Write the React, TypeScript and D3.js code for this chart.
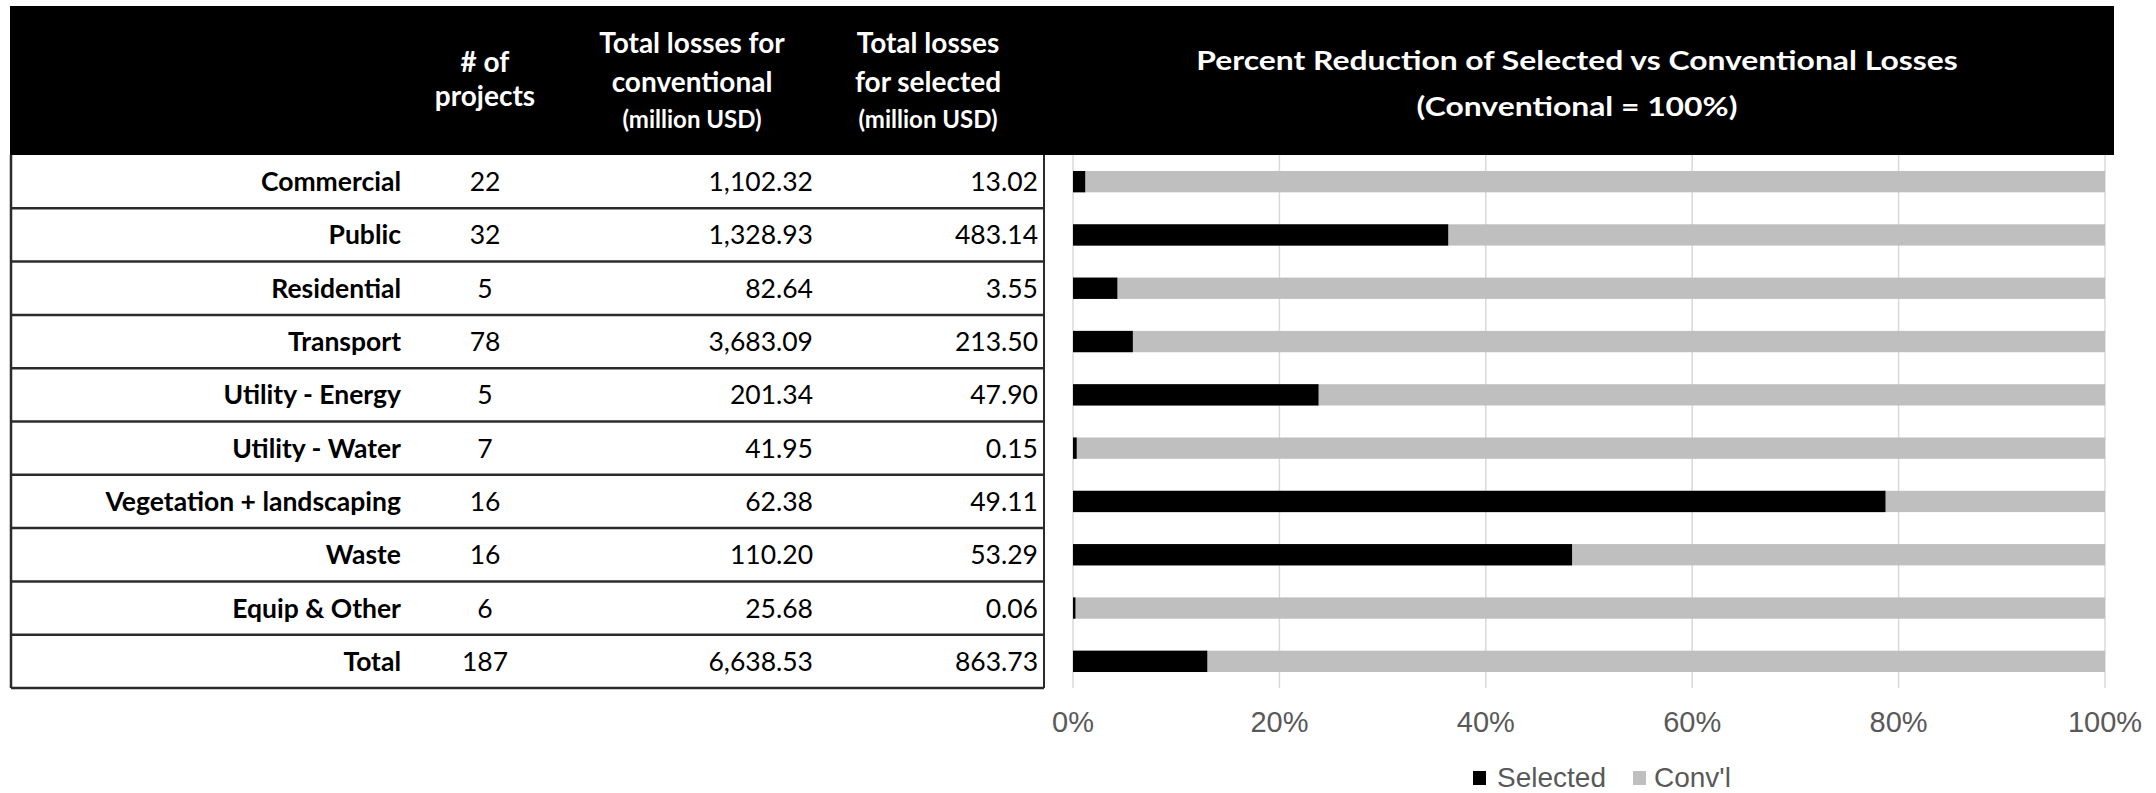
import React from "react";
import * as d3 from "d3";

const categories = [
  "Commercial",
  "Public",
  "Residential",
  "Transport",
  "Utility - Energy",
  "Utility - Water",
  "Vegetation + landscaping",
  "Waste",
  "Equip & Other",
  "Total",
];
const projects = [22, 32, 5, 78, 5, 7, 16, 16, 6, 187];
const conventional = [1102.32, 1328.93, 82.64, 3683.09, 201.34, 41.95, 62.38, 110.2, 25.68, 6638.53];
const selected = [13.02, 483.14, 3.55, 213.5, 47.9, 0.15, 49.11, 53.29, 0.06, 863.73];
const xTicks = [0, 0.2, 0.4, 0.6, 0.8, 1];
const seriesNames = ["Selected", "Conv'l"];
const chartTitle = ["Percent Reduction of Selected vs Conventional Losses", "(Conventional = 100%)"];

const W = 2156;
const H = 793;
const FONT = "Lato, 'Open Sans', sans-serif";
const AXFONT = "'Liberation Sans', Arial, sans-serif";

export default function App() {
  const tableLeft = 11;
  const tableRight = 1044;
  const top = 155;
  const bottom = 688;
  const headerTop = 6;
  const headerRight = 2114;

  const y = d3.scaleBand<string>().domain(categories).range([top, bottom]).padding(0);
  const x = d3.scaleLinear().domain([0, 1]).range([1073, 2105]);
  const fmt = d3.format(",.2f");
  const barH = y.bandwidth() * 0.4;

  const rows = categories.map((c, i) => {
    const s = selected[i] / conventional[i];
    return { c, i, s, y0: y(c) as number };
  });

  const colLabelRight = 401;
  const colProjects = 485;
  const colConvRight = 813;
  const colSelRight = 1038;
  const hdrConv = 692;
  const hdrSel = 928;
  const titleX = 1577;

  return (
    <svg
      width={W}
      height={H}
      viewBox={`0 0 ${W} ${H}`}
      style={{ position: "absolute", left: 0, top: 0, display: "block", background: "#fff" }}
    >
      {/* gridlines */}
      {xTicks.map((t) => (
        <line key={"g" + t} x1={x(t)} x2={x(t)} y1={top} y2={bottom} stroke="#d9d9d9" strokeWidth={1.5} />
      ))}
      {/* bars */}
      {rows.map((r) => {
        const cy = r.y0 + y.bandwidth() / 2;
        return (
          <g key={"b" + r.c}>
            <rect x={x(0)} y={cy - barH / 2} width={x(1) - x(0)} height={barH} fill="#bfbfbf" />
            <rect x={x(0)} y={cy - barH / 2} width={x(r.s) - x(0)} height={barH} fill="#000" />
          </g>
        );
      })}
      {/* x tick labels */}
      {xTicks.map((t) => (
        <text
          key={"t" + t}
          x={x(t)}
          y={732}
          textAnchor="middle"
          fontFamily={AXFONT}
          fontSize={29}
          fill="#595959"
        >
          {d3.format(".0%")(t)}
        </text>
      ))}
      {/* legend */}
      <rect x={1473} y={771} width={13} height={14} fill="#000" />
      <text x={1497} y={787} fontFamily={AXFONT} fontSize={28} fill="#595959">
        {seriesNames[0]}
      </text>
      <rect x={1633} y={771} width={13} height={14} fill="#bfbfbf" />
      <text x={1654} y={787} fontFamily={AXFONT} fontSize={28} fill="#595959">
        {seriesNames[1]}
      </text>

      {/* header */}
      <rect x={tableLeft - 1} y={headerTop} width={headerRight - tableLeft + 1} height={top - headerTop} fill="#000" />
      <g fontFamily={FONT} fontWeight={700} fill="#fff" textAnchor="middle">
        <text x={colProjects} y={72} fontSize={28}># of</text>
        <text x={colProjects} y={106} fontSize={28}>projects</text>
        <text x={hdrConv} y={53} fontSize={28}>Total losses for</text>
        <text x={hdrConv} y={92} fontSize={28}>conventional</text>
        <text x={hdrConv} y={128} fontSize={24}>(million USD)</text>
        <text x={hdrSel} y={53} fontSize={28}>Total losses</text>
        <text x={hdrSel} y={92} fontSize={28}>for selected</text>
        <text x={hdrSel} y={128} fontSize={24}>(million USD)</text>
        <text transform={`translate(${titleX},70) scale(1.18,1)`} fontSize={27}>{chartTitle[0]}</text>
        <text transform={`translate(${titleX},116) scale(1.18,1)`} fontSize={27}>{chartTitle[1]}</text>
      </g>

      {/* table */}
      <g fontFamily={FONT} fontSize={26.5}>
        {rows.map((r) => {
          const cy = r.y0 + y.bandwidth() / 2;
          return (
            <g key={"r" + r.c}>
              <text x={colLabelRight} y={cy} dy="0.36em" textAnchor="end" fontWeight={700} fill="#000">
                {r.c}
              </text>
              <text x={colProjects} y={cy} dy="0.36em" textAnchor="middle" fill="#000">
                {projects[r.i]}
              </text>
              <text x={colConvRight} y={cy} dy="0.36em" textAnchor="end" fill="#000">
                {fmt(conventional[r.i])}
              </text>
              <text x={colSelRight} y={cy} dy="0.36em" textAnchor="end" fill="#000">
                {fmt(selected[r.i])}
              </text>
            </g>
          );
        })}
        {rows.slice(1).map((r) => (
          <line key={"l" + r.c} x1={tableLeft} x2={tableRight} y1={r.y0} y2={r.y0} stroke="#2b2b2b" strokeWidth={2.5} />
        ))}
        <line x1={tableLeft} x2={tableRight} y1={bottom} y2={bottom} stroke="#2b2b2b" strokeWidth={2.5} />
        <line x1={tableLeft} x2={tableLeft} y1={top} y2={bottom} stroke="#2b2b2b" strokeWidth={2.5} />
        <line x1={tableRight} x2={tableRight} y1={top} y2={bottom} stroke="#2b2b2b" strokeWidth={2} />
      </g>
    </svg>
  );
}
